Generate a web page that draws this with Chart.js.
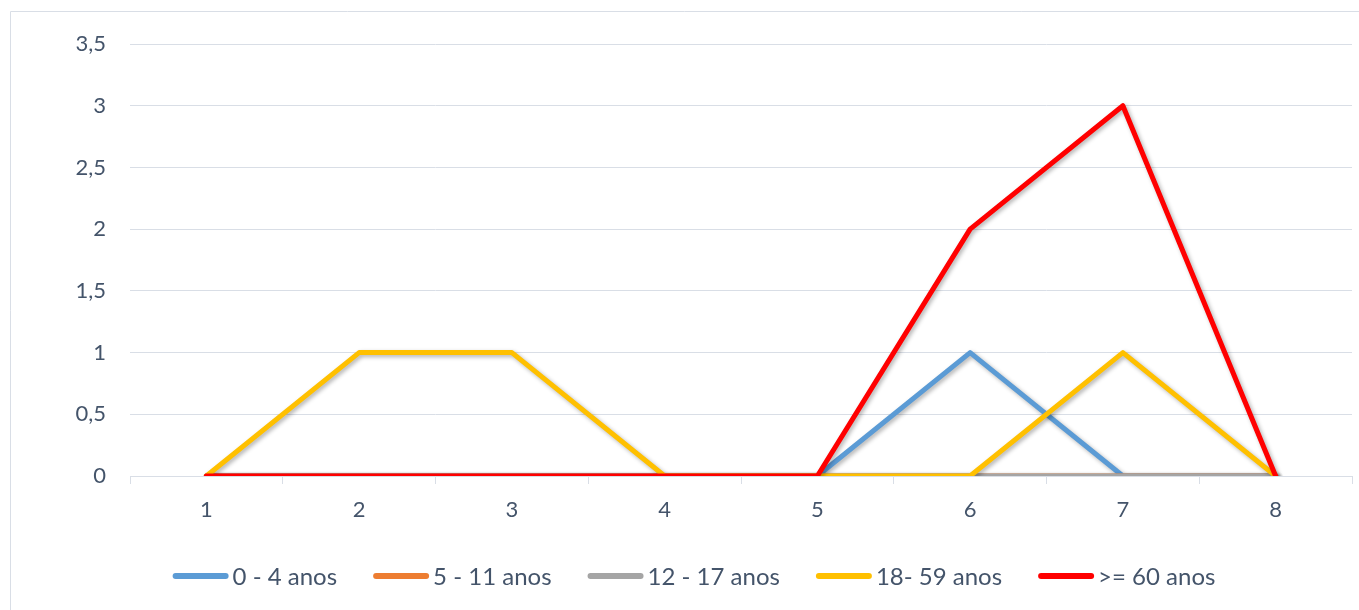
<!DOCTYPE html>
<html>
<head>
<meta charset="utf-8">
<script src="https://cdn.jsdelivr.net/npm/chart.js@4/dist/chart.umd.min.js"></script>
<style>
  html, body { margin: 0; padding: 0; background: #fff; }
  #wrap { position: relative; width: 1359px; height: 610px; }
</style>
</head>
<body>
<div id="wrap"><canvas id="c" width="1359" height="610"></canvas></div>
<script>
const categories = ['1', '2', '3', '4', '5', '6', '7', '8'];
const seriesNames = ['0 - 4 anos', '5 - 11 anos', '12 - 17 anos', '18- 59 anos', '>= 60 anos'];
const age0to4 = [0, 0, 0, 0, 0, 1, 0, 0];
const age5to11 = [0, 0, 0, 0, 0, 0, 0, 0];
const age12to17 = [0, 0, 0, 0, 0, 0, 0, 0];
const age18to59 = [0, 1, 1, 0, 0, 0, 1, 0];
const age60plus = [0, 0, 0, 0, 0, 2, 3, 0];
const yTicks = [0, 0.5, 1, 1.5, 2, 2.5, 3, 3.5];

const colors = ['#5B9BD5', '#ED7D31', '#A5A5A5', '#FFC000', '#FF0000'];
const values = [age0to4, age5to11, age12to17, age18to59, age60plus];
const textColor = '#44546A';
const fontFamily = 'Lato, "Open Sans", sans-serif';

const datasets = values.map((v, i) => ({
  label: seriesNames[i],
  data: v,
  borderColor: colors[i],
  backgroundColor: colors[i],
  borderWidth: 5,
  borderCapStyle: 'round',
  borderJoinStyle: 'round',
  pointRadius: 0,
  pointHoverRadius: 0,
  tension: 0,
  fill: false,
  order: values.length - i
}));

const frame = {
  id: 'frame',
  beforeDraw(chart) {
    const ctx = chart.ctx;
    ctx.save();
    ctx.strokeStyle = '#D9DEE6';
    ctx.lineWidth = 1;
    ctx.beginPath();
    ctx.moveTo(10.5, 610);
    ctx.lineTo(10.5, 11.5);
    ctx.lineTo(1359, 11.5);
    ctx.stroke();
    ctx.restore();
  }
};

const shadow = {
  id: 'shadow',
  beforeDatasetDraw(chart) {
    const ctx = chart.ctx;
    ctx.save();
    ctx.shadowColor = 'rgba(0,0,0,0.3)';
    ctx.shadowBlur = 4;
    ctx.shadowOffsetX = 2;
    ctx.shadowOffsetY = 2;
  },
  afterDatasetDraw(chart) {
    chart.ctx.restore();
  }
};

// Bottom legend drawn from the chart's own datasets
const bottomLegend = {
  id: 'bottomLegend',
  afterDraw(chart) {
    const ctx = chart.ctx;
    const markerW = 56, gap = 4, spacing = 36, centerX = 694, y = 576;
    ctx.save();
    ctx.font = '24px ' + fontFamily;
    ctx.textBaseline = 'middle';
    ctx.textAlign = 'left';
    const items = chart.data.datasets.map(ds => ({
      text: ds.label, color: ds.borderColor, w: ctx.measureText(ds.label).width
    }));
    const total = items.reduce((s, it) => s + markerW + gap + it.w, 0) + spacing * (items.length - 1);
    let x = centerX - total / 2;
    items.forEach(it => {
      ctx.strokeStyle = it.color;
      ctx.lineWidth = 6;
      ctx.lineCap = 'round';
      ctx.beginPath();
      ctx.moveTo(x + 3, y);
      ctx.lineTo(x + markerW - 3, y);
      ctx.stroke();
      ctx.fillStyle = textColor;
      ctx.fillText(it.text, x + markerW + gap, y + 1);
      x += markerW + gap + it.w + spacing;
    });
    ctx.restore();
  }
};

new Chart(document.getElementById('c'), {
  type: 'line',
  data: { labels: categories, datasets },
  plugins: [frame, shadow, bottomLegend],
  options: {
    responsive: false,
    animation: false,
    layout: { padding: { left: 0, right: 7, top: 44, bottom: 89 } },
    plugins: {
      tooltip: { enabled: false },
      legend: { display: false }
    },
    scales: {
      x: {
        offset: true,
        afterFit(scale) { scale.height = 45; },
        grid: {
          offset: true,
          drawOnChartArea: false,
          drawTicks: true,
          tickLength: 8,
          color: '#D9DEE6'
        },
        border: { color: '#D9DEE6', width: 1 },
        ticks: {
          color: textColor,
          font: { family: fontFamily, size: 22 },
          padding: 13
        }
      },
      y: {
        min: 0,
        max: 3.5,
        afterFit(scale) { scale.width = 130; },
        afterBuildTicks(scale) { scale.ticks = yTicks.map(v => ({ value: v })); },
        grid: { color: '#D9DEE6', drawTicks: false },
        border: { display: false },
        ticks: {
          color: textColor,
          font: { family: fontFamily, size: 22 },
          padding: 24,
          callback: v => String(v).replace('.', ',')
        }
      }
    }
  }
});
</script>
</body>
</html>
